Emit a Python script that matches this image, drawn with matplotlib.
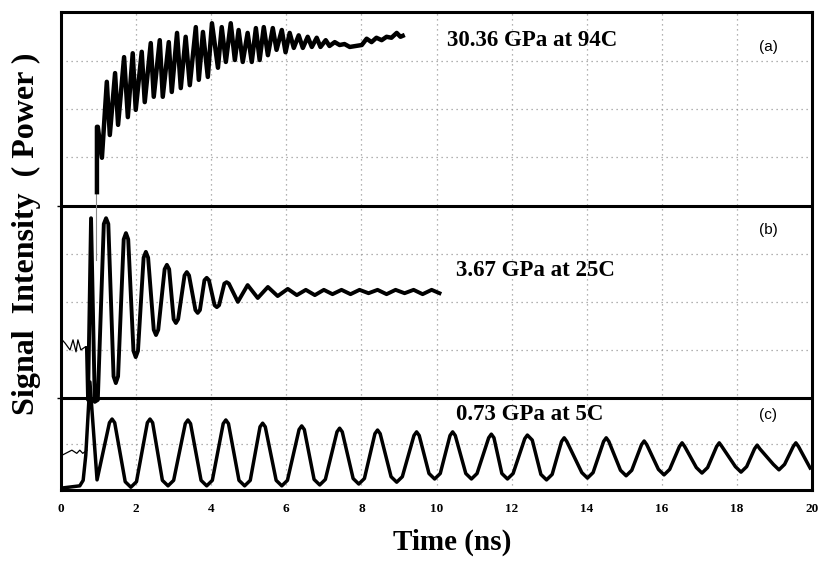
import matplotlib
matplotlib.use("Agg")
import matplotlib.pyplot as plt

# ---------------- data (time in ns, signal in grid units of each panel) -------------
# Panel (a): 30.36 GPa at 94C
a_pre_t = [0.93, 0.93]
a_pre_v = [-1.12, 0.28]
a_t = [0.957, 0.957, 0.98, 1.09, 1.22, 1.30, 1.44, 1.52, 1.68, 1.78, 1.91, 1.99, 2.15, 2.23,
       2.39, 2.47, 2.63, 2.71, 2.87, 2.95, 3.09, 3.19, 3.32, 3.43, 3.59, 3.67, 3.78, 3.91,
       4.02, 4.18, 4.28, 4.39, 4.52, 4.63, 4.73, 4.84, 4.97, 5.08, 5.19, 5.29, 5.40, 5.51,
       5.64, 5.74, 5.88, 5.98, 6.09, 6.20, 6.33, 6.44, 6.57, 6.68, 6.81, 6.91, 7.05, 7.15,
       7.29, 7.42, 7.55, 7.69, 7.85, 8.01, 8.14, 8.27, 8.40, 8.54, 8.67, 8.80, 8.94, 9.04, 9.10]
a_v = [0.28, 1.63, 1.63, 0.99, 2.56, 1.46, 2.74, 1.67, 3.07, 1.83, 3.15, 1.98, 3.18, 2.14,
       3.36, 2.25, 3.42, 2.25, 3.38, 2.35, 3.57, 2.43, 3.49, 2.49, 3.69, 2.60, 3.59, 2.66,
       3.77, 2.85, 3.69, 2.97, 3.77, 3.01, 3.63, 2.97, 3.57, 2.97, 3.67, 3.01, 3.69, 3.11,
       3.67, 3.22, 3.63, 3.17, 3.57, 3.26, 3.52, 3.26, 3.49, 3.28, 3.47, 3.28, 3.42, 3.30,
       3.38, 3.32, 3.34, 3.28, 3.30, 3.32, 3.45, 3.38, 3.47, 3.42, 3.49, 3.47, 3.57, 3.49, 3.51]

# Panel (b): 3.67 GPa at 25C
b_pre_t = [0.0, 0.03, 0.11, 0.24, 0.32, 0.40, 0.45, 0.53, 0.64, 0.69]
b_pre_v = [2.04, 1.21, 1.14, 1.00, 1.21, 0.96, 1.21, 1.00, 1.06, 1.04]
b_t = [0.69, 0.72, 0.80, 0.90, 0.98, 1.14, 1.20, 1.26,
       1.40, 1.46, 1.52, 1.67, 1.73, 1.79, 1.93, 1.99, 2.05, 2.20, 2.26, 2.32,
       2.47, 2.53, 2.59, 2.76, 2.82, 2.88, 3.00, 3.06, 3.12, 3.29, 3.35, 3.41,
       3.58, 3.64, 3.70, 3.82, 3.88, 3.94, 4.09, 4.15, 4.21, 4.35, 4.41, 4.47,
       4.71, 4.97, 5.24, 5.51, 5.77, 6.04, 6.28, 6.52, 6.76, 7.00,
       7.23, 7.47, 7.71, 7.95, 8.19, 8.43, 8.67, 8.91, 9.15, 9.39, 9.63, 9.87, 10.08]
b_v = [1.04, -0.04, 3.74, -0.08, -0.04, 3.62, 3.74, 3.62,
       0.45, 0.31, 0.45, 3.30, 3.43, 3.30, 0.98, 0.85, 0.98, 2.92, 3.04, 2.92,
       1.42, 1.31, 1.42, 2.68, 2.77, 2.68, 1.64, 1.56, 1.64, 2.55, 2.62, 2.55,
       1.83, 1.77, 1.83, 2.45, 2.50, 2.45, 1.93, 1.89, 1.93, 2.38, 2.41, 2.38,
       2.00, 2.35, 2.08, 2.31, 2.12, 2.27, 2.14, 2.25, 2.14, 2.25,
       2.16, 2.25, 2.16, 2.25, 2.18, 2.25, 2.16, 2.25, 2.18, 2.25, 2.16, 2.25, 2.18]

# Panel (c): 0.73 GPa at 5C
c_pre_t = [0.0, 0.03, 0.29, 0.42, 0.50, 0.58, 0.69]
c_pre_v = [0.75, 0.75, 0.86, 0.79, 0.86, 0.79, 0.86]
c_t = [0.0, 0.50, 0.59, 0.66, 0.77, 0.96,
       1.29, 1.36, 1.43, 1.71, 1.86, 2.01, 2.30, 2.37, 2.44, 2.70, 2.85, 3.00,
       3.31, 3.38, 3.45, 3.73, 3.88, 4.03, 4.32, 4.39, 4.46, 4.74, 4.89, 5.04,
       5.30, 5.37, 5.44, 5.73, 5.88, 6.03, 6.34, 6.41, 6.48, 6.74, 6.89, 7.04,
       7.35, 7.42, 7.49, 7.78, 7.93, 8.08, 8.36, 8.43, 8.50, 8.79, 8.94, 9.09,
       9.40, 9.47, 9.54, 9.80, 9.95, 10.10, 10.36, 10.43, 10.50, 10.78, 10.93, 11.08,
       11.39, 11.46, 11.53, 11.74, 11.89, 12.04, 12.35, 12.42, 12.55, 12.78, 12.93, 13.08,
       13.33, 13.40, 13.47, 13.87, 14.02, 14.17, 14.45, 14.52, 14.59, 14.90, 15.05, 15.20,
       15.46, 15.53, 15.60, 15.91, 16.06, 16.21, 16.47, 16.54, 16.61, 16.92, 17.07, 17.22,
       17.46, 17.53, 17.60, 17.96, 18.11, 18.26, 18.47, 18.54, 18.61, 18.97, 19.12, 19.27,
       19.50, 19.57, 19.64, 19.95]
c_v = [0.03, 0.08, 0.20, 0.75, 2.35, 0.21,
       1.46, 1.54, 1.46, 0.17, 0.05, 0.17, 1.46, 1.54, 1.46, 0.20, 0.08, 0.20,
       1.44, 1.52, 1.44, 0.20, 0.08, 0.20, 1.44, 1.52, 1.44, 0.20, 0.08, 0.20,
       1.37, 1.45, 1.37, 0.20, 0.08, 0.20, 1.31, 1.39, 1.31, 0.22, 0.10, 0.22,
       1.26, 1.34, 1.26, 0.24, 0.12, 0.24, 1.22, 1.30, 1.22, 0.28, 0.16, 0.28,
       1.18, 1.26, 1.18, 0.35, 0.23, 0.35, 1.18, 1.26, 1.18, 0.35, 0.23, 0.35,
       1.13, 1.21, 1.13, 0.35, 0.23, 0.35, 1.11, 1.19, 1.08, 0.33, 0.21, 0.33,
       1.05, 1.13, 1.05, 0.37, 0.25, 0.37, 1.05, 1.13, 1.05, 0.42, 0.30, 0.42,
       0.98, 1.06, 0.98, 0.44, 0.32, 0.44, 0.94, 1.02, 0.94, 0.48, 0.36, 0.48,
       0.94, 1.02, 0.94, 0.50, 0.38, 0.50, 0.89, 0.97, 0.89, 0.55, 0.43, 0.55,
       0.94, 1.02, 0.94, 0.47]

x_ticks = [0, 2, 4, 6, 8, 10, 12, 14, 16, 18, 20]
labels = ["30.36 GPa at 94C", "3.67 GPa at 25C", "0.73 GPa at 5C"]
tags = ["(a)", "(b)", "(c)"]

# ---------------- layout (panel base / scale in axis units) -------------
bases = [283.8, 91.5, 0.0]
scales = [48.4, 48.07, 45.75]
ndiv = [4, 4, 2]
top = 477.5

serif = ["Liberation Serif", "DejaVu Serif"]
sans = ["Liberation Sans", "DejaVu Sans"]

fig = plt.figure(figsize=(8.21, 5.62), dpi=100)
ax = fig.add_axes([61 / 821, 72.5 / 562, 751 / 821, 477.5 / 562])
ax.set_xlim(0, 20)
ax.set_ylim(0, top)

grid_kw = dict(color="#999999", lw=0.9, ls=(0, (1, 3)), zorder=1)
for xv in x_ticks[1:-1]:
    ax.axvline(xv, **grid_kw)
for b, s, n in zip(bases, scales, ndiv):
    for k in range(1, n):
        ax.axhline(b + k * s, **grid_kw)
for b in bases[:2]:
    ax.axhline(b, color="black", lw=2.2, zorder=2)


def tr(vals, i):
    return [bases[i] + scales[i] * v for v in vals]


ax.plot(a_pre_t, tr(a_pre_v, 0), color="#888888", lw=0.8, zorder=3)
ax.plot(a_t, tr(a_v, 0), color="black", lw=3.2, zorder=4, solid_joinstyle="round")
ax.plot(b_pre_t, tr(b_pre_v, 1), color="black", lw=0.9, zorder=4)
ax.plot(b_t, tr(b_v, 1), color="black", lw=2.8, zorder=4, solid_joinstyle="round")
ax.plot(c_pre_t, tr(c_pre_v, 2), color="black", lw=0.9, zorder=4)
ax.plot(c_t, tr(c_v, 2), color="black", lw=2.5, zorder=4, solid_joinstyle="round")

# annotations
lab_y = [449.5, 218.5, 74.5]
lab_x = [10.27, 10.53, 10.53]
tag_y = [442.5, 259.5, 74.5]
for i in range(3):
    ax.text(lab_x[i], lab_y[i], labels[i], family=serif, weight="bold", fontsize=16.5,
            ha="left", va="center", zorder=5)
    ax.text(18.83, tag_y[i], tags[i], family=sans, fontsize=11, ha="center", va="center", zorder=5)

for sp in ax.spines.values():
    sp.set_linewidth(2.2)
ax.set_xticks(x_ticks)
ax.set_xticklabels([str(v) for v in x_ticks], family=serif, weight="bold", fontsize=9.5)
ax.tick_params(axis="x", length=0, pad=10)
ax.set_yticks(bases[:2])
ax.set_yticklabels([])
ax.tick_params(axis="y", length=3, width=1)

fig.text(452 / 821, 1 - 542 / 562, "Time (ns)", family=serif, weight="bold", fontsize=21,
         ha="center", va="center")
fig.text(26 / 821, 1 - 234 / 562, "Signal  Intensity  ( Power )", family=serif, weight="bold",
         fontsize=23, rotation=90, ha="center", va="center")

fig.savefig("out.png", dpi=100)
